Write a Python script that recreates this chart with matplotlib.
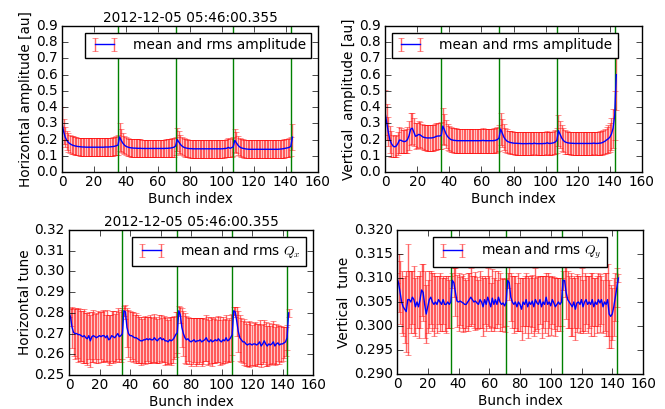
import matplotlib
matplotlib.use("Agg")
import matplotlib.pyplot as plt
import numpy as np

# Bunch-by-bunch data (4 trains of 36 bunches + first bunch of the next one)
hamp_mean = [
    0.300, 0.250, 0.215, 0.195, 0.182, 0.174, 0.168, 0.164, 0.161, 0.159, 0.157, 0.156,
    0.155, 0.154, 0.154, 0.153, 0.153, 0.153, 0.153, 0.153, 0.153, 0.153, 0.153, 0.153,
    0.153, 0.153, 0.153, 0.154, 0.154, 0.154, 0.155, 0.156, 0.157, 0.159, 0.162, 0.166,
    0.216, 0.195, 0.178, 0.166, 0.158, 0.154, 0.151, 0.149, 0.148, 0.147, 0.147, 0.146,
    0.146, 0.146, 0.145, 0.145, 0.145, 0.145, 0.145, 0.145, 0.145, 0.145, 0.145, 0.145,
    0.145, 0.145, 0.145, 0.145, 0.145, 0.146, 0.146, 0.147, 0.148, 0.150, 0.153, 0.160,
    0.200, 0.185, 0.170, 0.160, 0.153, 0.149, 0.147, 0.145, 0.144, 0.144, 0.143, 0.143,
    0.143, 0.143, 0.143, 0.143, 0.143, 0.143, 0.143, 0.143, 0.143, 0.143, 0.143, 0.143,
    0.143, 0.143, 0.143, 0.143, 0.143, 0.144, 0.145, 0.146, 0.152, 0.146, 0.150, 0.155,
    0.195, 0.180, 0.165, 0.155, 0.149, 0.146, 0.144, 0.142, 0.141, 0.140, 0.140, 0.140,
    0.140, 0.140, 0.140, 0.140, 0.140, 0.140, 0.140, 0.140, 0.140, 0.140, 0.140, 0.140,
    0.140, 0.140, 0.140, 0.140, 0.141, 0.142, 0.143, 0.145, 0.147, 0.149, 0.152, 0.158,
    0.215,
]
hamp_rms = [
    0.100, 0.075, 0.062, 0.058, 0.057, 0.056, 0.055, 0.055, 0.055, 0.055, 0.055, 0.055,
    0.055, 0.055, 0.055, 0.055, 0.055, 0.055, 0.055, 0.055, 0.055, 0.055, 0.055, 0.055,
    0.055, 0.055, 0.055, 0.055, 0.055, 0.056, 0.056, 0.056, 0.057, 0.057, 0.058, 0.060,
    0.085, 0.070, 0.062, 0.058, 0.056, 0.056, 0.055, 0.055, 0.055, 0.055, 0.055, 0.055,
    0.055, 0.055, 0.055, 0.055, 0.055, 0.055, 0.055, 0.055, 0.055, 0.055, 0.055, 0.055,
    0.055, 0.055, 0.055, 0.055, 0.055, 0.055, 0.055, 0.056, 0.056, 0.057, 0.058, 0.058,
    0.072, 0.065, 0.058, 0.056, 0.055, 0.055, 0.055, 0.055, 0.055, 0.055, 0.055, 0.055,
    0.055, 0.055, 0.055, 0.055, 0.055, 0.055, 0.055, 0.055, 0.055, 0.055, 0.055, 0.055,
    0.055, 0.055, 0.055, 0.055, 0.055, 0.055, 0.055, 0.056, 0.058, 0.056, 0.057, 0.058,
    0.070, 0.065, 0.058, 0.056, 0.055, 0.055, 0.055, 0.055, 0.055, 0.055, 0.055, 0.055,
    0.055, 0.055, 0.055, 0.055, 0.055, 0.055, 0.055, 0.055, 0.055, 0.055, 0.055, 0.055,
    0.055, 0.055, 0.055, 0.055, 0.055, 0.055, 0.055, 0.056, 0.056, 0.057, 0.058, 0.060,
    0.078,
]
vamp_mean = [
    0.368, 0.310, 0.250, 0.200, 0.175, 0.160, 0.155, 0.160, 0.175, 0.197, 0.195, 0.190,
    0.187, 0.190, 0.200, 0.225, 0.265, 0.270, 0.245, 0.220, 0.225, 0.232, 0.228, 0.220,
    0.214, 0.212, 0.210, 0.210, 0.210, 0.210, 0.212, 0.215, 0.220, 0.222, 0.222, 0.225,
    0.283, 0.260, 0.235, 0.218, 0.208, 0.200, 0.197, 0.195, 0.194, 0.193, 0.193, 0.193,
    0.193, 0.193, 0.193, 0.193, 0.193, 0.193, 0.193, 0.193, 0.193, 0.193, 0.193, 0.193,
    0.193, 0.195, 0.193, 0.193, 0.193, 0.193, 0.193, 0.193, 0.194, 0.196, 0.200, 0.210,
    0.265, 0.240, 0.215, 0.200, 0.190, 0.185, 0.182, 0.180, 0.178, 0.177, 0.177, 0.176,
    0.176, 0.175, 0.175, 0.175, 0.175, 0.175, 0.176, 0.175, 0.175, 0.178, 0.175, 0.175,
    0.175, 0.175, 0.175, 0.176, 0.176, 0.180, 0.176, 0.176, 0.178, 0.180, 0.185, 0.195,
    0.255, 0.232, 0.210, 0.195, 0.186, 0.182, 0.179, 0.178, 0.177, 0.177, 0.176, 0.176,
    0.176, 0.176, 0.176, 0.176, 0.176, 0.176, 0.176, 0.176, 0.176, 0.176, 0.178, 0.176,
    0.176, 0.177, 0.178, 0.180, 0.185, 0.190, 0.198, 0.205, 0.215, 0.235, 0.270, 0.350,
    0.600,
]
vamp_rms = [
    0.140, 0.110, 0.090, 0.085, 0.080, 0.070, 0.065, 0.065, 0.070, 0.080, 0.075, 0.070,
    0.070, 0.075, 0.080, 0.090, 0.100, 0.095, 0.085, 0.080, 0.080, 0.080, 0.080, 0.078,
    0.078, 0.078, 0.078, 0.078, 0.078, 0.078, 0.080, 0.080, 0.082, 0.082, 0.082, 0.082,
    0.110, 0.095, 0.085, 0.080, 0.078, 0.076, 0.075, 0.075, 0.075, 0.075, 0.075, 0.075,
    0.075, 0.075, 0.075, 0.075, 0.075, 0.075, 0.075, 0.075, 0.075, 0.075, 0.075, 0.075,
    0.075, 0.075, 0.075, 0.075, 0.075, 0.075, 0.075, 0.075, 0.076, 0.077, 0.078, 0.080,
    0.100, 0.085, 0.078, 0.074, 0.072, 0.070, 0.070, 0.070, 0.070, 0.070, 0.070, 0.070,
    0.070, 0.070, 0.070, 0.070, 0.070, 0.070, 0.070, 0.070, 0.070, 0.070, 0.070, 0.070,
    0.070, 0.070, 0.070, 0.070, 0.070, 0.070, 0.070, 0.070, 0.071, 0.072, 0.073, 0.075,
    0.095, 0.085, 0.078, 0.074, 0.072, 0.070, 0.070, 0.070, 0.070, 0.070, 0.070, 0.070,
    0.070, 0.070, 0.070, 0.070, 0.070, 0.070, 0.070, 0.070, 0.070, 0.070, 0.070, 0.070,
    0.070, 0.071, 0.072, 0.073, 0.075, 0.078, 0.082, 0.085, 0.090, 0.100, 0.120, 0.150,
    0.220,
]
qx_mean = [
    0.2800, 0.2780, 0.2730, 0.2705, 0.2700, 0.2700, 0.2695, 0.2695, 0.2690, 0.2685, 0.2690, 0.2680,
    0.2675, 0.2690, 0.2665, 0.2685, 0.2690, 0.2685, 0.2680, 0.2685, 0.2690, 0.2685, 0.2690, 0.2690,
    0.2680, 0.2690, 0.2670, 0.2675, 0.2690, 0.2685, 0.2680, 0.2690, 0.2700, 0.2685, 0.2690, 0.2700,
    0.2810, 0.2805, 0.2730, 0.2700, 0.2690, 0.2690, 0.2685, 0.2680, 0.2680, 0.2675, 0.2670, 0.2665,
    0.2665, 0.2670, 0.2670, 0.2675, 0.2670, 0.2675, 0.2670, 0.2670, 0.2680, 0.2670, 0.2665, 0.2675,
    0.2680, 0.2670, 0.2675, 0.2665, 0.2665, 0.2660, 0.2670, 0.2665, 0.2670, 0.2680, 0.2695, 0.2705,
    0.2810, 0.2790, 0.2730, 0.2700, 0.2680, 0.2670, 0.2675, 0.2665, 0.2660, 0.2665, 0.2670, 0.2660,
    0.2665, 0.2665, 0.2670, 0.2660, 0.2665, 0.2670, 0.2680, 0.2665, 0.2660, 0.2670, 0.2660, 0.2665,
    0.2670, 0.2665, 0.2675, 0.2665, 0.2660, 0.2670, 0.2665, 0.2680, 0.2665, 0.2670, 0.2680, 0.2695,
    0.2810, 0.2805, 0.2760, 0.2710, 0.2680, 0.2670, 0.2660, 0.2660, 0.2650, 0.2645, 0.2650, 0.2650,
    0.2645, 0.2650, 0.2650, 0.2645, 0.2650, 0.2660, 0.2640, 0.2650, 0.2665, 0.2650, 0.2640, 0.2650,
    0.2645, 0.2650, 0.2660, 0.2640, 0.2650, 0.2655, 0.2645, 0.2650, 0.2650, 0.2655, 0.2660, 0.2680,
    0.2800,
]
qx_rms = [
    0.0020, 0.0045, 0.0100, 0.0115, 0.0125, 0.0120, 0.0130, 0.0125, 0.0120, 0.0125, 0.0130, 0.0120,
    0.0125, 0.0115, 0.0125, 0.0120, 0.0125, 0.0110, 0.0120, 0.0125, 0.0115, 0.0120, 0.0125, 0.0120,
    0.0110, 0.0125, 0.0120, 0.0115, 0.0120, 0.0125, 0.0115, 0.0120, 0.0125, 0.0120, 0.0125, 0.0125,
    0.0025, 0.0035, 0.0095, 0.0115, 0.0120, 0.0115, 0.0120, 0.0110, 0.0120, 0.0115, 0.0110, 0.0115,
    0.0105, 0.0110, 0.0115, 0.0105, 0.0110, 0.0115, 0.0110, 0.0105, 0.0115, 0.0110, 0.0105, 0.0115,
    0.0110, 0.0105, 0.0110, 0.0115, 0.0110, 0.0105, 0.0110, 0.0115, 0.0110, 0.0105, 0.0110, 0.0100,
    0.0025, 0.0040, 0.0095, 0.0110, 0.0120, 0.0115, 0.0105, 0.0110, 0.0115, 0.0110, 0.0105, 0.0115,
    0.0110, 0.0110, 0.0105, 0.0115, 0.0110, 0.0100, 0.0110, 0.0115, 0.0105, 0.0110, 0.0115, 0.0105,
    0.0110, 0.0100, 0.0110, 0.0115, 0.0105, 0.0110, 0.0105, 0.0110, 0.0100, 0.0105, 0.0110, 0.0100,
    0.0020, 0.0025, 0.0070, 0.0100, 0.0110, 0.0105, 0.0100, 0.0110, 0.0105, 0.0100, 0.0110, 0.0105,
    0.0095, 0.0100, 0.0105, 0.0100, 0.0095, 0.0105, 0.0100, 0.0095, 0.0100, 0.0105, 0.0095, 0.0100,
    0.0090, 0.0095, 0.0100, 0.0090, 0.0095, 0.0085, 0.0090, 0.0085, 0.0080, 0.0075, 0.0070, 0.0060,
    0.0020,
]
qy_mean = [
    0.3100, 0.3090, 0.3070, 0.3050, 0.3040, 0.3035, 0.3030, 0.3055, 0.3055, 0.3050, 0.3060, 0.3055,
    0.3040, 0.3050, 0.3040, 0.3055, 0.3075, 0.3070, 0.3045, 0.3025, 0.3040, 0.3055, 0.3060, 0.3050,
    0.3045, 0.3050, 0.3045, 0.3055, 0.3050, 0.3045, 0.3055, 0.3045, 0.3045, 0.3050, 0.3045, 0.3050,
    0.3095, 0.3090, 0.3070, 0.3052, 0.3050, 0.3052, 0.3050, 0.3048, 0.3045, 0.3045, 0.3050, 0.3055,
    0.3060, 0.3055, 0.3050, 0.3052, 0.3048, 0.3045, 0.3055, 0.3050, 0.3040, 0.3055, 0.3045, 0.3060,
    0.3050, 0.3040, 0.3058, 0.3045, 0.3055, 0.3045, 0.3060, 0.3050, 0.3045, 0.3048, 0.3042, 0.3050,
    0.3095, 0.3090, 0.3060, 0.3050, 0.3045, 0.3050, 0.3040, 0.3050, 0.3045, 0.3035, 0.3050, 0.3045,
    0.3055, 0.3040, 0.3050, 0.3045, 0.3052, 0.3040, 0.3055, 0.3048, 0.3045, 0.3055, 0.3040, 0.3050,
    0.3045, 0.3060, 0.3045, 0.3050, 0.3042, 0.3055, 0.3048, 0.3040, 0.3045, 0.3050, 0.3045, 0.3050,
    0.3095, 0.3095, 0.3070, 0.3055, 0.3050, 0.3045, 0.3040, 0.3050, 0.3035, 0.3048, 0.3050, 0.3045,
    0.3055, 0.3040, 0.3050, 0.3055, 0.3045, 0.3050, 0.3045, 0.3055, 0.3040, 0.3050, 0.3045, 0.3055,
    0.3048, 0.3055, 0.3040, 0.3050, 0.3045, 0.3055, 0.3025, 0.3020, 0.3025, 0.3040, 0.3060, 0.3080,
    0.3100,
]
qy_rms = [
    0.0010, 0.0060, 0.0065, 0.0065, 0.0060, 0.0070, 0.0085, 0.0115, 0.0060, 0.0065, 0.0055, 0.0070,
    0.0060, 0.0055, 0.0065, 0.0060, 0.0055, 0.0060, 0.0070, 0.0060, 0.0055, 0.0060, 0.0055, 0.0060,
    0.0065, 0.0055, 0.0060, 0.0050, 0.0060, 0.0055, 0.0050, 0.0055, 0.0060, 0.0055, 0.0050, 0.0055,
    0.0015, 0.0030, 0.0050, 0.0055, 0.0060, 0.0050, 0.0055, 0.0060, 0.0055, 0.0050, 0.0060, 0.0055,
    0.0060, 0.0050, 0.0055, 0.0060, 0.0055, 0.0050, 0.0060, 0.0055, 0.0060, 0.0050, 0.0055, 0.0060,
    0.0055, 0.0050, 0.0060, 0.0055, 0.0060, 0.0050, 0.0055, 0.0060, 0.0055, 0.0050, 0.0055, 0.0050,
    0.0015, 0.0035, 0.0050, 0.0055, 0.0060, 0.0055, 0.0050, 0.0060, 0.0055, 0.0065, 0.0050, 0.0060,
    0.0055, 0.0065, 0.0050, 0.0060, 0.0055, 0.0060, 0.0065, 0.0055, 0.0060, 0.0050, 0.0065, 0.0055,
    0.0060, 0.0050, 0.0065, 0.0055, 0.0060, 0.0050, 0.0055, 0.0060, 0.0055, 0.0050, 0.0055, 0.0050,
    0.0020, 0.0035, 0.0055, 0.0060, 0.0055, 0.0065, 0.0060, 0.0055, 0.0065, 0.0060, 0.0055, 0.0060,
    0.0065, 0.0055, 0.0060, 0.0050, 0.0060, 0.0055, 0.0065, 0.0055, 0.0060, 0.0050, 0.0060, 0.0055,
    0.0060, 0.0050, 0.0055, 0.0060, 0.0065, 0.0075, 0.0070, 0.0065, 0.0055, 0.0060, 0.0050, 0.0040,
    0.0008,
]
train_edges = [35, 71, 107, 143]
title_text = "2012-12-05 05:46:00.355"

bunch = np.arange(len(hamp_mean))

plt.style.use("classic")
plt.rcParams["font.size"] = 9.8
plt.rcParams["legend.fontsize"] = 9.8
plt.rcParams["xtick.major.pad"] = 2.5
plt.rcParams["ytick.major.pad"] = 3
plt.rcParams["axes.labelpad"] = 2

fig = plt.figure(figsize=(6.65, 4.09), dpi=100, facecolor="white")
W, H = 665.0, 409.0


def box(x0, y0, x1, y1):
    return [x0 / W, 1 - y1 / H, (x1 - x0) / W, (y1 - y0) / H]


panels = [
    (box(62, 26, 318, 172), hamp_mean, hamp_rms, "Horizontal amplitude [au]",
     "mean and rms amplitude", (0, 0.9), "upper right", True),
    (box(385, 26, 642, 172), vamp_mean, vamp_rms, "Vertical  amplitude [au]",
     "mean and rms amplitude", (0, 0.9), "upper left", False),
    (box(69, 230, 313, 375), qx_mean, qx_rms, "Horizontal tune",
     r"mean and rms $Q_x$", (0.25, 0.32), "upper right", True),
    (box(397, 230, 643, 374), qy_mean, qy_rms, "Vertical  tune",
     r"mean and rms $Q_y$", (0.29, 0.32), "upper center", False),
]

for rect, mean, rms, ylabel, label, ylim, loc, with_title in panels:
    ax = fig.add_axes(rect)
    eb = ax.errorbar(bunch, mean, yerr=rms, fmt="b-", ecolor="r", capsize=2.2,
                     lw=1, elinewidth=1, label=label)
    for art in list(eb[1]) + list(eb[2]):
        art.set_alpha(0.6)
    for xe in train_edges:
        ax.axvline(xe, color="g")
    ax.set_xlim(0, 160)
    ax.set_ylim(*ylim)
    ax.ticklabel_format(axis="y", useOffset=False)
    ax.set_xlabel("Bunch index")
    ax.set_ylabel(ylabel)
    if with_title:
        ax.set_title(title_text, fontsize=9.8, pad=3)
    ax.legend(loc=loc, handletextpad=1.1)

fig.savefig("out.png", dpi=100, facecolor="white")
